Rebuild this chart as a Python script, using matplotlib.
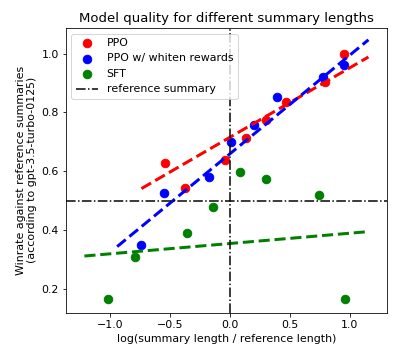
import numpy as np
import matplotlib
matplotlib.use("Agg")
from matplotlib import pyplot as plt

# log(summary length / reference length) and winrate
ppo_x = [0.955, 0.795, 0.464, 0.299, 0.131, -0.04, -0.539, -0.374]
ppo_y = [1.0, 0.902, 0.834, 0.776, 0.712, 0.639, 0.630, 0.543]

whiten_x = [0.955, 0.773, 0.39, 0.202, 0.012, -0.172, -0.55, -0.742]
whiten_y = [0.963, 0.921, 0.851, 0.757, 0.70, 0.580, 0.525, 0.351]

sft_x = [0.081, 0.302, 0.74, -0.139, -0.36, -0.795, -1.015, 0.957]
sft_y = [0.598, 0.574, 0.519, 0.478, 0.391, 0.308, 0.168, 0.166]

# trend lines (slope, intercept) as drawn in the chart
ppo_fit = (0.236, 0.716)
whiten_fit = (0.335, 0.660)
sft_fit = (0.035, 0.355)

labels = ["PPO", "PPO w/ whiten rewards", "SFT"]
colors = ["red", "blue", "green"]


def draw_trend(ax, xs, fit, color, pad=0.2):
    # line spans the data range plus a little padding
    x = np.array([min(xs) - pad, max(xs) + pad])
    ax.plot(x, fit[0] * x + fit[1], "--", color=color, lw=3)


plt.rcParams["font.size"] = 11

fig, ax = plt.subplots(figsize=(399 / 72, 359 / 72), dpi=72)
fig.subplots_adjust(left=0.165, right=0.970, top=0.922, bottom=0.129)

series = [(ppo_x, ppo_y, ppo_fit), (whiten_x, whiten_y, whiten_fit), (sft_x, sft_y, sft_fit)]
for (xs, ys, fit), label, color in zip(series, labels, colors):
    ax.scatter(xs, ys, s=72, color=color, label=label)
    draw_trend(ax, xs, fit, color)

ax.axhline(0.5, color="k", ls="-.", lw=1.5, label="reference summary")
ax.axvline(0.0, color="k", ls="-.", lw=1.5)

ax.set_xlim(-1.37, 1.31)
ax.set_ylim(0.12, 1.087)
ax.set_xticks([-1.0, -0.5, 0.0, 0.5, 1.0])
ax.set_yticks([0.2, 0.4, 0.6, 0.8, 1.0])
ax.set_title("Model quality for different summary lengths")
ax.set_xlabel("log(summary length / reference length)")
ax.set_ylabel("Winrate against reference summaries\n(according to gpt-3.5-turbo-0125)")
ax.legend(loc="upper left")

fig.savefig("out.png", dpi=72)
